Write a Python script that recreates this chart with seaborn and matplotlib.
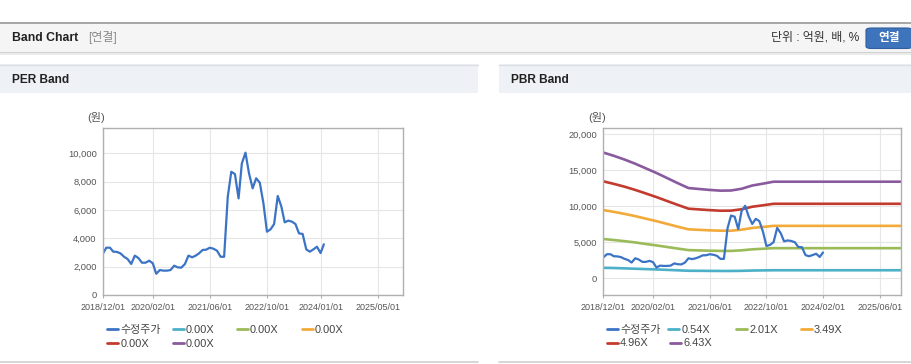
import matplotlib
matplotlib.use("Agg")
import matplotlib.pyplot as plt
from matplotlib.patches import Rectangle, FancyBboxPatch
from matplotlib.lines import Line2D
from matplotlib.ticker import FuncFormatter
import seaborn as sns
import pandas as pd

# ---------------- data ----------------
price_dates = list(pd.date_range("2018-12-01", "2024-01-01", freq="MS")) + [pd.Timestamp("2024-01-29")]
price_values = [
    2900,
    3340, 3340, 3060, 3040, 2940, 2700, 2540, 2190, 2780, 2610, 2280, 2280,
    2420, 2240, 1500, 1760, 1720, 1720, 1760, 2070, 1950, 1930, 2190, 2780,
    2660, 2780, 2940, 3180, 3200, 3340, 3270, 3130, 2700, 2700, 6940, 8700,
    8540, 6820, 9290, 10050, 8590, 7530, 8240, 7930, 6470, 4470, 4640, 5010,
    6990, 6240, 5130, 5250, 5180, 5010, 4350, 4310, 3220, 3060, 3220, 3410,
    2960, 3580,
]
price_label = "수정주가"

band_dates = pd.to_datetime([
    "2018-12-01", "2019-03-01", "2019-06-01", "2019-09-01", "2019-12-01",
    "2020-03-01", "2020-06-01", "2020-09-01", "2020-12-01", "2021-03-01",
    "2021-06-01", "2021-09-01", "2021-12-01", "2022-03-01", "2022-06-01",
    "2022-09-01", "2022-12-01", "2025-12-01",
])
pbr_band_054 = [1460, 1430, 1380, 1330, 1280, 1230, 1170, 1110, 1050, 1040, 1030, 1020, 1020, 1040, 1080, 1100, 1120, 1120]
pbr_band_201 = [5450, 5310, 5150, 4970, 4760, 4560, 4340, 4120, 3910, 3870, 3830, 3800, 3800, 3880, 4020, 4100, 4180, 4180]
pbr_band_349 = [9460, 9210, 8930, 8620, 8270, 7920, 7540, 7150, 6790, 6720, 6650, 6600, 6600, 6740, 6980, 7120, 7270, 7270]
pbr_band_496 = [13440, 13090, 12700, 12250, 11760, 11260, 10710, 10170, 9650, 9550, 9450, 9370, 9380, 9570, 9920, 10120, 10330, 10330]
pbr_band_643 = [17430, 16980, 16460, 15880, 15240, 14600, 13890, 13180, 12510, 12380, 12250, 12150, 12170, 12410, 12860, 13120, 13390, 13390]
pbr_band_labels = ["0.54X", "2.01X", "3.49X", "4.96X", "6.43X"]
per_band_labels = ["0.00X", "0.00X", "0.00X", "0.00X", "0.00X"]

per_xticks = ["2018-12-01", "2020-02-01", "2021-06-01", "2022-10-01", "2024-01-01", "2025-05-01"]
pbr_xticks = ["2018-12-01", "2020-02-01", "2021-06-01", "2022-10-01", "2024-02-01", "2025-06-01"]
per_yticks = [0, 2000, 4000, 6000, 8000, 10000]
pbr_yticks = [0, 5000, 10000, 15000, 20000]

# ---------------- style ----------------
sns.set_theme(style="white")
plt.rcParams["font.family"] = ["Liberation Sans", "Noto Sans CJK KR", "DejaVu Sans"]

W, H = 912, 364
fig = plt.figure(figsize=(W / 100, H / 100), dpi=100)
fig.patch.set_facecolor("white")

def fx(x):
    return x / W

def fy(y):
    return 1 - y / H

def rect(x0, y0, x1, y1, color, z=0):
    fig.add_artist(Rectangle((fx(x0), fy(y1)), fx(x1) - fx(x0), fy(y0) - fy(y1),
                             transform=fig.transFigure, facecolor=color,
                             edgecolor="none", zorder=z))

def hline(x0, x1, y, color, lw):
    fig.add_artist(Line2D([fx(x0), fx(x1)], [fy(y), fy(y)], transform=fig.transFigure,
                          color=color, lw=lw, zorder=1))

# top header bar
rect(0, 22, W, 52, "#f5f5f5")
hline(0, W, 22.5, "#a0a0a0", 1.3)
hline(0, W, 52.5, "#d0d0d0", 1.5)
hline(0, W, 54, "#ebebeb", 1.5)
fig.text(fx(12), fy(38), "Band Chart", fontsize=8.8, fontweight="bold", color="#222222", va="center")
fig.text(fx(88), fy(38), "[연결]", fontsize=8.6, color="#8a8a8a", va="center")
fig.text(fx(859), fy(38), "단위 : 억원, 배, %", fontsize=8.6, color="#333333", va="center", ha="right")
fig.add_artist(FancyBboxPatch((fx(866), fy(48.5)), fx(912) - fx(866), fy(28) - fy(48.5),
                              boxstyle="round,pad=0,rounding_size=0.006",
                              transform=fig.transFigure, facecolor="#3d74bb",
                              edgecolor="#2f5f9e", lw=0.8, zorder=2))
fig.text(fx(889), fy(38.5), "연결", fontsize=8.4, fontweight="bold", color="white",
         va="center", ha="center", zorder=3)

# panel headers and borders
for (x0, x1, title) in [(0, 478, "PER Band"), (499, W, "PBR Band")]:
    rect(x0, 64, x1, 93, "#eef2f7")
    hline(x0, x1, 64.5, "#dcdfe3", 1.0)
    hline(x0, x1, 362, "#cfcfcf", 1.2)
    fig.text(fx(x0 + 12), fy(80), title, fontsize=8.6, fontweight="bold", color="#222222", va="center")

fig.text(fx(87), fy(118), "(원)", fontsize=8, color="#555555", va="center")
fig.text(fx(588), fy(118), "(원)", fontsize=8, color="#555555", va="center")

price_color = "#3b73c5"
band_colors = ["#4bb0c8", "#9bbb59", "#f2aa3a", "#c23b2e", "#8a5a9e"]

def style_axes(ax, xticks, yticks, ylim):
    ax.set_facecolor("white")
    ax.set_xlim(pd.Timestamp("2018-12-01"), pd.Timestamp("2025-12-01"))
    ax.set_ylim(*ylim)
    ax.set_xticks(pd.to_datetime(xticks))
    ax.set_xticklabels([t.replace("-", "/") for t in xticks])
    ax.set_yticks(yticks)
    ax.yaxis.set_major_formatter(FuncFormatter(lambda v, p: f"{int(v):,}"))
    ax.grid(True, color="#e6e6e6", lw=0.8)
    ax.set_axisbelow(True)
    for s in ax.spines.values():
        s.set_color("#b0b0b0")
        s.set_linewidth(1.0)
    ax.tick_params(axis="x", length=2.5, width=0.8, color="#b0b0b0", pad=3.5,
                   labelsize=6.5, labelcolor="#555555", bottom=True)
    ax.tick_params(axis="y", length=0, pad=4.3, labelsize=6.7, labelcolor="#555555")
    ax.set_xlabel("")
    ax.set_ylabel("")

# PER axes
ax1 = fig.add_axes([fx(102.7), fy(295), fx(402.7) - fx(102.7), fy(128) - fy(295)])
sns.lineplot(x=price_dates, y=price_values, ax=ax1, color=price_color, linewidth=1.6)
style_axes(ax1, per_xticks, per_yticks, (0, 11790))

# PBR axes
ax2 = fig.add_axes([fx(603.3), fy(295), fx(901.3) - fx(603.3), fy(128.3) - fy(295)])
for vals, col in zip([pbr_band_054, pbr_band_201, pbr_band_349, pbr_band_496, pbr_band_643], band_colors):
    sns.lineplot(x=band_dates, y=vals, ax=ax2, color=col, linewidth=1.9)
sns.lineplot(x=price_dates, y=price_values, ax=ax2, color=price_color, linewidth=1.6)
style_axes(ax2, pbr_xticks, pbr_yticks, (-2310, 20790))

# legends (fixed-width columns like the original widget)
def legend_entry(handle_color, label, x, y):
    h = Line2D([], [], color=handle_color, lw=2.0)
    fig.legend(handles=[h], labels=[label], loc="center left",
               bbox_to_anchor=(fx(x), fy(y)), frameon=False, borderpad=0,
               borderaxespad=0, handlelength=1.0, handletextpad=0.22,
               fontsize=7.9, labelcolor="#444444")

per_pos = [(107, 330), (172.7, 330), (236.7, 330), (301.7, 330), (107, 344), (172.7, 344)]
pbr_pos = [(606.7, 330), (668.3, 330), (736, 330), (800.7, 330), (606.7, 343.5), (670, 343.5)]
for (x, y), lab, col in zip(per_pos, [price_label] + per_band_labels, [price_color] + band_colors):
    legend_entry(col, lab, x, y)
for (x, y), lab, col in zip(pbr_pos, [price_label] + pbr_band_labels, [price_color] + band_colors):
    legend_entry(col, lab, x, y)

fig.savefig("out.png", dpi=100)
